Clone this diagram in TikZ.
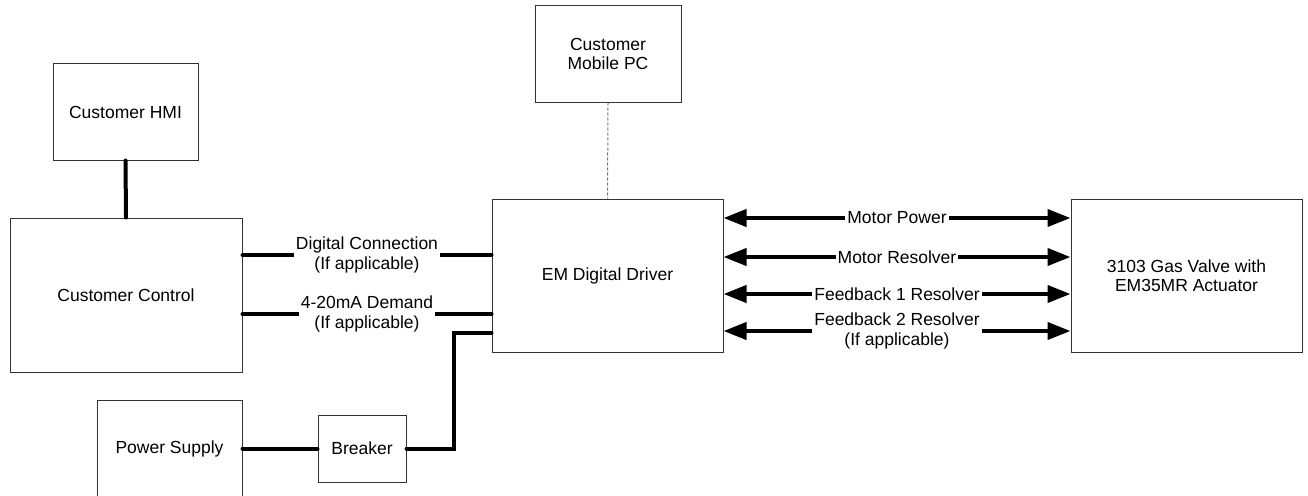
\documentclass[tikz,border=0pt]{standalone}
\usepackage{fontspec}
\setmainfont{Liberation Sans}
\usetikzlibrary{arrows.meta}
\begin{document}
\begin{tikzpicture}[x=1pt,y=-1pt,
  box/.style={draw=black!80, line width=1pt, minimum width=#1, inner sep=0pt, align=center},
  thickline/.style={line width=4pt, line cap=round},
  dblarrow/.style={line width=4pt, {Triangle[length=23pt,width=17pt]}-{Triangle[length=23pt,width=17pt]}},
  lbl/.style={fill=white, inner xsep=2pt, inner ysep=1pt, align=center},
  dashline/.style={draw=black!55, line width=1pt, dash pattern=on 3pt off 2pt}]
\useasboundingbox (0,0) rectangle (1308,495);
\fontsize{17.5}{19.5}\selectfont
\node[box=145pt, minimum height=96pt] (hmi) at (125.5,112) {Customer HMI};
\node[box=232pt, minimum height=154pt] (ctrl) at (126,295) {Customer Control};
\node[box=146pt, minimum height=96pt] (mpc) at (608,54) {Customer\\Mobile PC};
\node[box=231pt, minimum height=153pt] (emd) at (607.5,275.5) {EM Digital Driver};
\node[box=231pt, minimum height=153pt] (valve) at (1186.5,275.5) {3103 Gas Valve with\\EM35MR Actuator};
\node[box=145pt, minimum height=97pt] (psu) at (169.5,448.5) {Power Supply};
\node[box=88pt, minimum height=67pt] (brk) at (362,448.5) {Breaker};

\draw[thickline] (hmi.south) -- (ctrl.north);
\draw[dashline] (mpc.south) -- (emd.north);

\draw[thickline] (ctrl.east |- 0,255) -- node[lbl] {Digital Connection\\(If applicable)} (emd.west |- 0,255);
\draw[thickline] (ctrl.east |- 0,314) -- node[lbl] {4-20mA Demand\\(If applicable)} (emd.west |- 0,314);

\draw[thickline] (psu.east) -- (brk.west);
\draw[line width=4pt, line cap=round, line join=miter] (brk.east) -- ++(47,0) |- (emd.west |- 0,333);

\draw[dblarrow] (emd.east |- 0,218) -- node[lbl] {Motor Power} (valve.west |- 0,218);
\draw[dblarrow] (emd.east |- 0,257) -- node[lbl] {Motor Resolver} (valve.west |- 0,257);
\draw[dblarrow] (emd.east |- 0,294) -- node[lbl] {Feedback 1 Resolver} (valve.west |- 0,294);
\draw[dblarrow] (emd.east |- 0,331) -- node[lbl] {Feedback 2 Resolver\\(If applicable)} (valve.west |- 0,331);
\end{tikzpicture}
\end{document}
